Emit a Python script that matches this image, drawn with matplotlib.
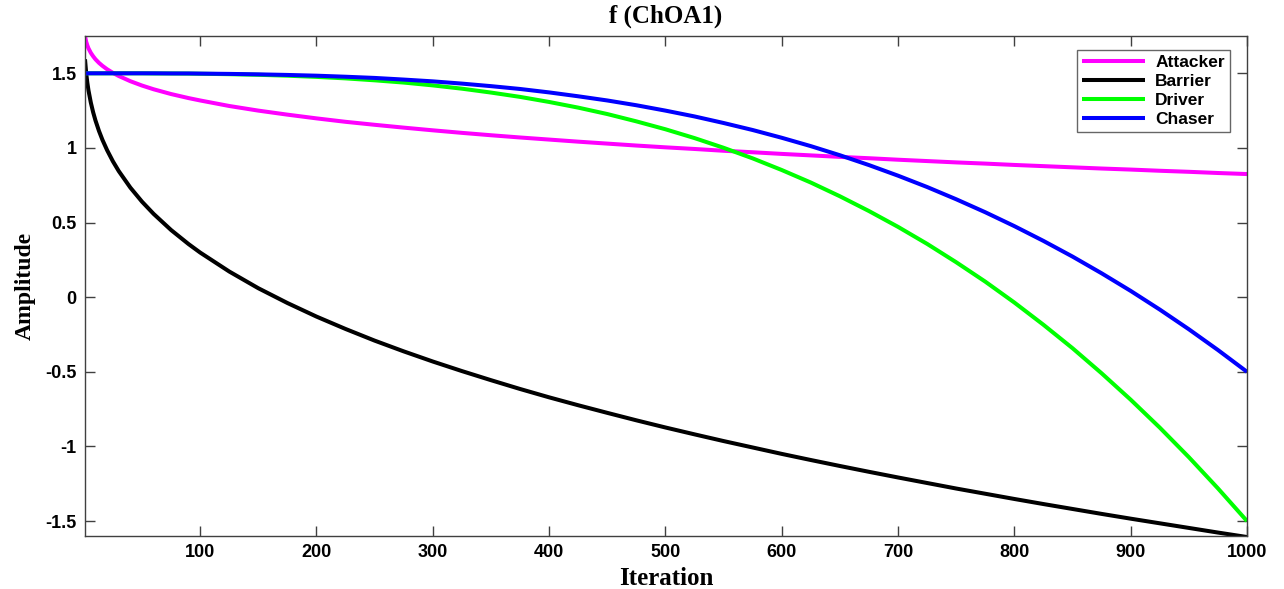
import matplotlib
matplotlib.use("Agg")
import matplotlib.pyplot as plt

plt.rcParams["axes.unicode_minus"] = False

# Iterations at which the coefficients are sampled
iters = [1, 2, 3, 4, 6, 8, 10, 13, 16, 20, 25, 30, 40, 50, 60, 75, 90, 100,
         125, 150, 175, 200, 225, 250, 275, 300, 325, 350, 375, 400, 425, 450,
         475, 500, 525, 550, 575, 600, 625, 650, 675, 700, 725, 750, 775, 800,
         825, 850, 875, 900, 925, 950, 975, 1000]

attacker = [1.75, 1.712, 1.687, 1.667, 1.637, 1.614, 1.594, 1.570, 1.55, 1.527,
            1.503, 1.482, 1.447, 1.418, 1.393, 1.361, 1.334, 1.318,
            1.281, 1.250, 1.223, 1.198, 1.175, 1.155, 1.136, 1.118, 1.101,
            1.085, 1.070, 1.056, 1.042, 1.029, 1.016, 1.004, 0.993, 0.981,
            0.971, 0.960, 0.950, 0.940, 0.931, 0.921, 0.912, 0.903, 0.895,
            0.886, 0.878, 0.870, 0.862, 0.855, 0.847, 0.840, 0.832, 0.825]
barrier = [1.594, 1.502, 1.437, 1.385, 1.304, 1.239, 1.184, 1.114, 1.054, 0.985,
           0.910, 0.845, 0.734, 0.640, 0.558, 0.450, 0.356, 0.299,
           0.172, 0.060, -0.039, -0.130, -0.213, -0.291, -0.363, -0.431, -0.495,
           -0.556, -0.615, -0.671, -0.724, -0.775, -0.825, -0.873, -0.919,
           -0.964, -1.007, -1.050, -1.091, -1.131, -1.170, -1.208, -1.245,
           -1.282, -1.317, -1.352, -1.386, -1.419, -1.452, -1.484, -1.515,
           -1.546, -1.577, -1.607]
driver = [1.5, 1.5, 1.5, 1.5, 1.5, 1.5, 1.5, 1.5, 1.5, 1.5,
          1.5, 1.5, 1.5, 1.5, 1.499, 1.499, 1.498, 1.497,
          1.494, 1.490, 1.484, 1.476, 1.466, 1.453, 1.438, 1.419, 1.397,
          1.371, 1.342, 1.308, 1.270, 1.227, 1.178, 1.125, 1.066, 1.001,
          0.930, 0.852, 0.768, 0.676, 0.577, 0.471, 0.357, 0.234, 0.104,
          -0.036, -0.185, -0.342, -0.510, -0.687, -0.874, -1.072, -1.281, -1.5]
chaser = [1.5, 1.5, 1.5, 1.5, 1.5, 1.5, 1.5, 1.5, 1.5, 1.5,
          1.5, 1.5, 1.5, 1.5, 1.5, 1.499, 1.499, 1.498,
          1.496, 1.493, 1.489, 1.484, 1.477, 1.469, 1.458, 1.446, 1.431,
          1.414, 1.395, 1.372, 1.346, 1.318, 1.286, 1.25, 1.211, 1.167,
          1.120, 1.068, 1.012, 0.951, 0.885, 0.814, 0.738, 0.656, 0.569,
          0.476, 0.377, 0.272, 0.160, 0.042, -0.083, -0.215, -0.354, -0.5]

series = [("Attacker", attacker, "#FF00FF"),
          ("Barrier", barrier, "#000000"),
          ("Driver", driver, "#00FF00"),
          ("Chaser", chaser, "#0000FF")]

xticks = [100, 200, 300, 400, 500, 600, 700, 800, 900, 1000]
yticks = [-1.5, -1, -0.5, 0, 0.5, 1, 1.5]
ytick_labels = ["-1.5", "-1", "-0.5", "0", "0.5", "1", "1.5"]

fig = plt.figure(figsize=(12.84, 5.89), dpi=100)
ax = fig.add_axes([0.0662, 0.0900, 0.9050, 0.8489])

for name, vals, col in series:
    ax.plot(iters, vals, color=col, lw=2.9, label=name,
            solid_joinstyle="round", solid_capstyle="butt")

ax.set_xlim(1, 1000)
ax.set_ylim(-1.6, 1.75)
ax.set_xticks(xticks)
ax.set_xticklabels([str(v) for v in xticks])
ax.set_yticks(yticks)
ax.set_yticklabels(ytick_labels)

for lbl in ax.get_xticklabels() + ax.get_yticklabels():
    lbl.set_fontfamily("Liberation Sans")
    lbl.set_fontweight("bold")
    lbl.set_fontsize(13)

ax.tick_params(direction="in", length=7, width=1, color="#404040",
               top=True, right=True, pad=6)
for sp in ax.spines.values():
    sp.set_color("#404040")
    sp.set_linewidth(1.0)

ax.set_title("f (ChOA1)", family="Liberation Serif", weight="bold",
             size=18, pad=10)
ax.set_xlabel("Iteration", family="Liberation Serif", weight="bold",
              size=18, labelpad=4)
ax.set_ylabel("Amplitude", family="Liberation Serif", weight="bold",
              size=17, labelpad=7)

leg = ax.legend(loc="upper right", bbox_to_anchor=(0.9854, 0.972),
                prop=dict(family="Liberation Sans", weight="bold", size=12.5),
                frameon=True, fancybox=False, edgecolor="#404040",
                handlelength=3.6, handletextpad=0.6, borderpad=0.3,
                labelspacing=0.22, borderaxespad=0.0)
leg.get_frame().set_linewidth(1.0)

fig.savefig("out.png", dpi=100)
